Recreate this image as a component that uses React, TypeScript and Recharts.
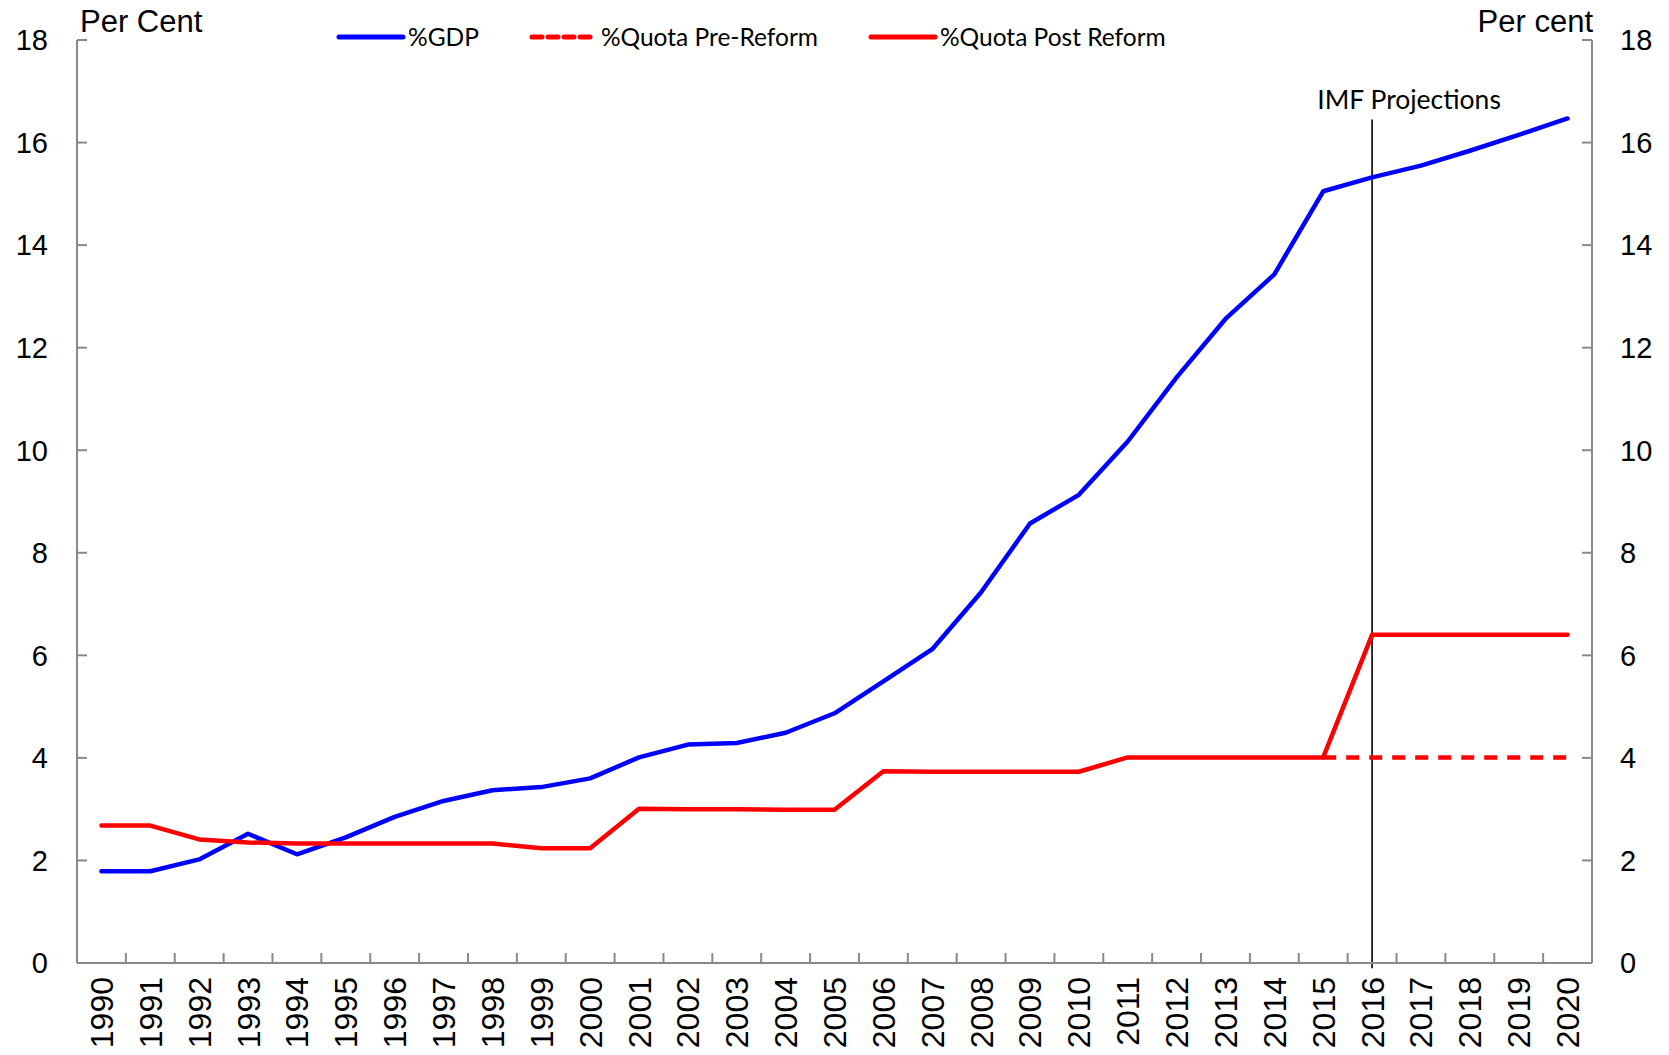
import React from "react";
import { LineChart, Line, XAxis, YAxis, Legend, ReferenceLine } from "recharts";

const years = [
  "1990", "1991", "1992", "1993", "1994", "1995", "1996", "1997", "1998", "1999",
  "2000", "2001", "2002", "2003", "2004", "2005", "2006", "2007", "2008", "2009",
  "2010", "2011", "2012", "2013", "2014", "2015", "2016", "2017", "2018", "2019", "2020",
];
const gdpShare = [
  1.79, 1.79, 2.02, 2.52, 2.12, 2.45, 2.85, 3.16, 3.37, 3.43,
  3.6, 4.01, 4.26, 4.29, 4.49, 4.87, 5.49, 6.12, 7.23, 8.57,
  9.13, 10.17, 11.42, 12.56, 13.43, 15.05, 15.32, 15.55, 15.84, 16.15, 16.47,
];
const quotaPre = [
  null, null, null, null, null, null, null, null, null, null,
  null, null, null, null, null, null, null, null, null, null,
  null, null, null, null, null, 4.01, 4.01, 4.01, 4.01, 4.01, 4.01,
];
const quotaPost = [
  2.68, 2.68, 2.41, 2.35, 2.33, 2.33, 2.33, 2.33, 2.33, 2.24,
  2.24, 3.01, 3.0, 3.0, 2.99, 2.99, 3.74, 3.73, 3.73, 3.73,
  3.73, 4.01, 4.01, 4.01, 4.01, 4.01, 6.4, 6.4, 6.4, 6.4, 6.4,
];
const seriesNames = ["%GDP", "%Quota Pre-Reform", "%Quota Post Reform"];
const yTicks = [0, 2, 4, 6, 8, 10, 12, 14, 16, 18];
const projectionYear = "2016";
const projectionTop = 16.45;

const AXIS = "#898989";
const ARIAL = "'Liberation Sans', Arial, sans-serif";
const CALIBRI = "Lato, 'Open Sans', sans-serif";

const data = years.map((year, i) => ({
  idx: i,
  year,
  gdp: gdpShare[i],
  pre: quotaPre[i],
  post: quotaPost[i],
}));

// labels on the year centres, tick marks on the boundaries between years
const xTicks = years.flatMap((_, i) => [i - 0.5, i]).concat(years.length - 0.5);

function XTick({ x, y, payload }: any) {
  const v = payload.value;
  if (!Number.isInteger(v)) {
    return <line x1={x} x2={x} y1={y} y2={y - 10} stroke={AXIS} strokeWidth={2} />;
  }
  const ty = y + 14;
  return (
    <text
      x={x}
      y={ty}
      transform={`rotate(-90, ${x}, ${ty})`}
      textAnchor="end"
      dy="0.36em"
      fontSize={32}
      fontFamily={ARIAL}
      fill="#000"
    >
      {years[v]}
    </text>
  );
}

const leftTitle = (props: any) => {
  const vb = props.viewBox;
  return (
    <text x={vb.x + vb.width + 3} y={vb.y - 8} fontSize={31} fontFamily={ARIAL} fill="#000">
      Per Cent
    </text>
  );
};

const rightTitle = (props: any) => {
  const vb = props.viewBox;
  return (
    <text x={vb.x + 1} y={vb.y - 8} textAnchor="end" fontSize={31} fontFamily={ARIAL} fill="#000">
      Per cent
    </text>
  );
};

const projectionLabel = (props: any) => {
  const vb = props.viewBox;
  const top = Math.min(vb.y, vb.y + vb.height);
  return (
    <text x={vb.x + 37} y={top - 10} textAnchor="middle" fontSize={26.5} fontFamily={CALIBRI} fill="#000">
      IMF Projections
    </text>
  );
};

const dashes: Record<string, string | undefined> = { pre: "10 6" };

function LegendContent({ payload }: any) {
  return (
    <div
      style={{
        display: "flex",
        alignItems: "center",
        fontFamily: CALIBRI,
        fontSize: 24.5,
        lineHeight: "28px",
        whiteSpace: "nowrap",
        color: "#000",
      }}
    >
      {(payload || []).map((e: any, i: number) => (
        <div key={i} style={{ display: "flex", alignItems: "center", marginRight: 50 }}>
          <svg width={70} height={8}>
            <line
              x1={3}
              x2={67}
              y1={4}
              y2={4}
              stroke={e.color}
              strokeWidth={5}
              strokeLinecap="round"
              strokeDasharray={dashes[e.dataKey]}
            />
          </svg>
          <span style={{ marginLeft: 2 }}>{e.value}</span>
        </div>
      ))}
    </div>
  );
}

export default function App() {
  return (
    <div style={{ position: "absolute", left: 0, top: 0, background: "#fff" }}>
      <LineChart width={1669} height={1055} data={data} margin={{ top: 40, right: 0, left: 0, bottom: 0 }}>
        <XAxis
          dataKey="idx"
          type="number"
          domain={[-0.5, years.length - 0.5]}
          ticks={xTicks}
          interval={0}
          height={92}
          tickSize={0}
          tickMargin={0}
          tickLine={false}
          axisLine={{ stroke: AXIS, strokeWidth: 2 }}
          tick={<XTick />}
        />
        <YAxis
          yAxisId="l"
          domain={[0, 18]}
          ticks={yTicks}
          interval={0}
          width={77}
          tickSize={-10}
          tickMargin={39}
          axisLine={{ stroke: AXIS, strokeWidth: 2 }}
          tickLine={{ stroke: AXIS, strokeWidth: 2 }}
          tick={{ fontSize: 29, fill: "#000", fontFamily: ARIAL }}
          label={leftTitle}
        />
        <YAxis
          yAxisId="r"
          orientation="right"
          domain={[0, 18]}
          ticks={yTicks}
          interval={0}
          width={77}
          tickSize={-10}
          tickMargin={38}
          axisLine={{ stroke: AXIS, strokeWidth: 2 }}
          tickLine={{ stroke: AXIS, strokeWidth: 2 }}
          tick={{ fontSize: 29, fill: "#000", fontFamily: ARIAL, textAnchor: "start" }}
          label={rightTitle}
        />
        <Legend
          layout="horizontal"
          verticalAlign="middle"
          align="center"
          itemSorter={(item: any) => seriesNames.indexOf(item.value)}
          content={<LegendContent />}
          wrapperStyle={{ top: 23, left: 336, width: "auto", height: 28 }}
        />
        <ReferenceLine
          yAxisId="l"
          segment={[
            { x: years.indexOf(projectionYear), y: projectionTop },
            { x: years.indexOf(projectionYear), y: -0.1 },
          ]}
          ifOverflow="visible"
          stroke="#000"
          strokeWidth={1.6}
          label={projectionLabel}
        />
        <Line
          yAxisId="l"
          dataKey="gdp"
          name={seriesNames[0]}
          stroke="#0000FF"
          strokeWidth={4.5}
          dot={false}
          strokeLinejoin="round"
          strokeLinecap="round"
          isAnimationActive={false}
        />
        <Line
          yAxisId="r"
          dataKey="pre"
          name={seriesNames[1]}
          stroke="#FF0000"
          strokeWidth={4.5}
          strokeDasharray="13 10"
          dot={false}
          isAnimationActive={false}
        />
        <Line
          yAxisId="l"
          dataKey="post"
          name={seriesNames[2]}
          stroke="#FF0000"
          strokeWidth={4.5}
          dot={false}
          strokeLinejoin="round"
          strokeLinecap="round"
          isAnimationActive={false}
        />
      </LineChart>
    </div>
  );
}
